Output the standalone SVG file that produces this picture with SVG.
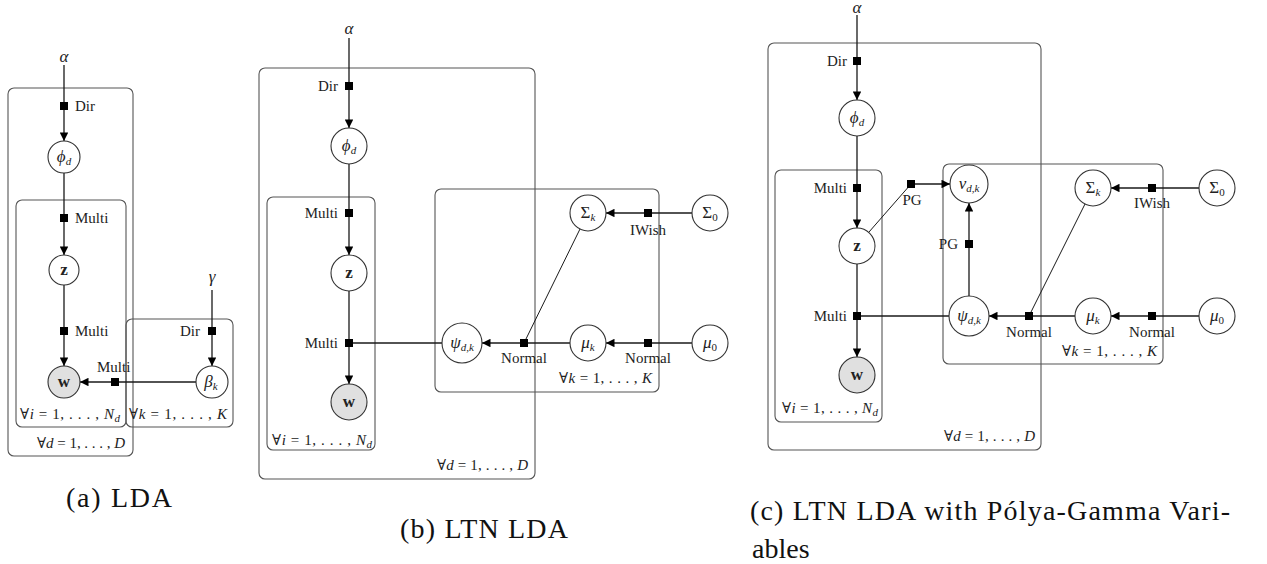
<svg xmlns="http://www.w3.org/2000/svg" width="1267" height="564" viewBox="0 0 1267 564">
<style>
  .plate{fill:none;stroke:#555;stroke-width:1.1}
  .node{fill:#fff;stroke:#333;stroke-width:1.1}
  .obs{fill:#e0e0e0;stroke:#333;stroke-width:1.1}
  .edge{fill:none;stroke:#1a1a1a;stroke-width:1.3}
  .thin{fill:none;stroke:#1a1a1a;stroke-width:1}
  .fac{fill:#000}
  text{font-family:"Liberation Serif","DejaVu Serif",serif;fill:#222}
  .lab{font-size:15px}
  .math{font-size:17px;font-style:italic}
  .mid{text-anchor:middle}
  .end{text-anchor:end}
  .cap{font-size:28px;fill:#111}
  .b{font-weight:bold;font-style:normal}
  .sub{font-size:11px}
</style>
<defs>
  <marker id="arr" viewBox="0 0 10 10" refX="10" refY="5" markerUnits="userSpaceOnUse" markerWidth="9" markerHeight="8.5" orient="auto">
    <path d="M0,0 L10,5 L0,10 z" fill="#000"/>
  </marker>
  <rect id="sq" x="-4" y="-4" width="8" height="8" class="fac"/>
</defs>

<!-- ============ Panel (a) ============ -->
<g id="plates-a">
  <rect class="plate" x="8" y="88" width="125" height="368" rx="6"/>
  <rect class="plate" x="16" y="200" width="110" height="227" rx="6"/>
  <rect class="plate" x="126" y="319" width="107" height="108" rx="6"/>
</g>
<g id="edges-a">
  <line class="edge" x1="64" y1="65" x2="64" y2="141" marker-end="url(#arr)"/>
  <line class="edge" x1="64" y1="173" x2="64" y2="255" marker-end="url(#arr)"/>
  <line class="edge" x1="64" y1="285" x2="64" y2="366" marker-end="url(#arr)"/>
  <line class="edge" x1="212" y1="290" x2="212" y2="366" marker-end="url(#arr)"/>
  <line class="edge" x1="196" y1="382" x2="80" y2="382" marker-end="url(#arr)"/>
  <use href="#sq" x="64" y="106"/>
  <use href="#sq" x="64" y="218"/>
  <use href="#sq" x="64" y="331"/>
  <use href="#sq" x="212" y="331"/>
  <use href="#sq" x="115" y="382"/>
</g>
<g id="a-alpha"><text class="math mid" x="64" y="62">α</text></g>
<g id="a-gamma"><text class="math mid" x="212" y="282">γ</text></g>
<g id="a-phi"><circle class="node" cx="64" cy="157" r="16"/><text class="math mid" x="64" y="162">ϕ<tspan class="sub" dy="3">d</tspan></text></g>
<g id="a-z"><circle class="node" cx="64" cy="270" r="15"/><text class="math mid b" x="64" y="275">z</text></g>
<g id="a-w"><circle class="obs" cx="64" cy="382" r="16"/><text class="math mid b" x="64" y="387">w</text></g>
<g id="a-beta"><circle class="node" cx="212" cy="382" r="16"/><text class="math mid" x="211" y="387">β<tspan class="sub" dy="3">k</tspan></text></g>
<g id="a-labels">
  <text class="lab" x="75" y="111">Dir</text>
  <text class="lab" x="75" y="223">Multi</text>
  <text class="lab" x="75" y="336">Multi</text>
  <text class="lab end" x="200" y="336">Dir</text>
  <text class="lab" x="97" y="372">Multi</text>
  <text class="lab" x="20" y="419" textLength="100" lengthAdjust="spacing">∀<tspan font-style="italic">i</tspan> = 1, . . . , <tspan font-style="italic">N</tspan><tspan class="sub" font-style="italic" dy="3">d</tspan></text>
  <text class="lab" x="129" y="419" textLength="98" lengthAdjust="spacing">∀<tspan font-style="italic">k</tspan> = 1, . . . , <tspan font-style="italic">K</tspan></text>
  <text class="lab" x="37" y="448" textLength="88" lengthAdjust="spacing">∀<tspan font-style="italic">d</tspan> = 1, . . . , <tspan font-style="italic">D</tspan></text>
</g>

<!-- ============ Panel (b) ============ -->
<g id="plates-b">
  <rect class="plate" x="259" y="68" width="276" height="411" rx="6"/>
  <rect class="plate" x="267" y="197" width="108" height="253" rx="6"/>
  <rect class="plate" x="435" y="189" width="224" height="203" rx="6"/>
</g>
<g id="edges-b">
  <line class="edge" x1="349" y1="38" x2="349" y2="128" marker-end="url(#arr)"/>
  <line class="edge" x1="349" y1="164" x2="349" y2="255" marker-end="url(#arr)"/>
  <line class="edge" x1="349" y1="291" x2="349" y2="384" marker-end="url(#arr)"/>
  <line class="edge" x1="442" y1="343" x2="349" y2="343"/>
  <line class="edge" x1="570" y1="343" x2="482" y2="343" marker-end="url(#arr)"/>
  <line class="edge" x1="692" y1="343" x2="606" y2="343" marker-end="url(#arr)"/>
  <line class="edge" x1="692" y1="213" x2="606" y2="213" marker-end="url(#arr)"/>
  <line class="thin" x1="580" y1="229" x2="524" y2="343"/>
  <use href="#sq" x="349" y="86"/>
  <use href="#sq" x="349" y="213"/>
  <use href="#sq" x="349" y="343"/>
  <use href="#sq" x="524" y="343"/>
  <use href="#sq" x="648" y="343"/>
  <use href="#sq" x="648" y="213"/>
</g>
<g id="b-alpha"><text class="math mid" x="349" y="34">α</text></g>
<g id="b-phi"><circle class="node" cx="349" cy="146" r="18"/><text class="math mid" x="349" y="151">ϕ<tspan class="sub" dy="3">d</tspan></text></g>
<g id="b-z"><circle class="node" cx="349" cy="273" r="18"/><text class="math mid b" x="349" y="278">z</text></g>
<g id="b-w"><circle class="obs" cx="349" cy="402" r="18"/><text class="math mid b" x="349" y="407">w</text></g>
<g id="b-psi"><circle class="node" cx="462" cy="343" r="20"/><text class="math mid" x="462" y="348">ψ<tspan class="sub" dy="3">d,k</tspan></text></g>
<g id="b-sigmak"><circle class="node" cx="588" cy="213" r="18"/><text class="math mid" x="588" y="218"><tspan font-style="normal">Σ</tspan><tspan class="sub" dy="3">k</tspan></text></g>
<g id="b-sigma0"><circle class="node" cx="710" cy="213" r="18"/><text class="math mid" x="710" y="218"><tspan font-style="normal">Σ</tspan><tspan class="sub" font-style="normal" dy="3">0</tspan></text></g>
<g id="b-muk"><circle class="node" cx="588" cy="343" r="18"/><text class="math mid" x="588" y="348">μ<tspan class="sub" dy="3">k</tspan></text></g>
<g id="b-mu0"><circle class="node" cx="710" cy="343" r="18"/><text class="math mid" x="710" y="348">μ<tspan class="sub" font-style="normal" dy="3">0</tspan></text></g>
<g id="b-labels">
  <text class="lab end" x="338" y="91">Dir</text>
  <text class="lab end" x="338" y="218">Multi</text>
  <text class="lab end" x="338" y="348">Multi</text>
  <text class="lab mid" x="648" y="235">IWish</text>
  <text class="lab mid" x="524" y="363">Normal</text>
  <text class="lab mid" x="648" y="363">Normal</text>
  <text class="lab" x="559" y="383" textLength="93" lengthAdjust="spacing">∀<tspan font-style="italic">k</tspan> = 1, . . . , <tspan font-style="italic">K</tspan></text>
  <text class="lab" x="272" y="445" textLength="100" lengthAdjust="spacing">∀<tspan font-style="italic">i</tspan> = 1, . . . , <tspan font-style="italic">N</tspan><tspan class="sub" font-style="italic" dy="3">d</tspan></text>
  <text class="lab" x="437" y="470" textLength="91" lengthAdjust="spacing">∀<tspan font-style="italic">d</tspan> = 1, . . . , <tspan font-style="italic">D</tspan></text>
</g>

<!-- ============ Panel (c) ============ -->
<g id="plates-c">
  <rect class="plate" x="768" y="43" width="273" height="407" rx="6"/>
  <rect class="plate" x="775" y="170" width="107" height="252" rx="6"/>
  <rect class="plate" x="943" y="164" width="220" height="200" rx="6"/>
</g>
<g id="edges-c">
  <line class="edge" x1="857" y1="15" x2="857" y2="100" marker-end="url(#arr)"/>
  <line class="edge" x1="857" y1="136" x2="857" y2="228" marker-end="url(#arr)"/>
  <line class="edge" x1="857" y1="264" x2="857" y2="357" marker-end="url(#arr)"/>
  <line class="edge" x1="949" y1="316" x2="857" y2="316"/>
  <line class="thin" x1="869" y1="232" x2="911" y2="184"/>
  <line class="edge" x1="911" y1="184" x2="950" y2="184" marker-end="url(#arr)"/>
  <line class="edge" x1="969" y1="296" x2="969" y2="203" marker-end="url(#arr)"/>
  <line class="edge" x1="1075" y1="316" x2="989" y2="316" marker-end="url(#arr)"/>
  <line class="edge" x1="1199" y1="316" x2="1111" y2="316" marker-end="url(#arr)"/>
  <line class="edge" x1="1199" y1="188" x2="1111" y2="188" marker-end="url(#arr)"/>
  <line class="thin" x1="1085" y1="204" x2="1029" y2="316"/>
  <use href="#sq" x="857" y="61"/>
  <use href="#sq" x="857" y="188"/>
  <use href="#sq" x="857" y="316"/>
  <use href="#sq" x="911" y="184"/>
  <use href="#sq" x="969" y="244"/>
  <use href="#sq" x="1029" y="316"/>
  <use href="#sq" x="1152" y="316"/>
  <use href="#sq" x="1152" y="188"/>
</g>
<g id="c-alpha"><text class="math mid" x="857" y="13">α</text></g>
<g id="c-phi"><circle class="node" cx="857" cy="118" r="18"/><text class="math mid" x="857" y="123">ϕ<tspan class="sub" dy="3">d</tspan></text></g>
<g id="c-z"><circle class="node" cx="857" cy="246" r="18"/><text class="math mid b" x="857" y="251">z</text></g>
<g id="c-w"><circle class="obs" cx="857" cy="375" r="18"/><text class="math mid b" x="857" y="380">w</text></g>
<g id="c-v"><circle class="node" cx="969" cy="184" r="19"/><text class="math mid" x="969" y="189">v<tspan class="sub" dy="3">d,k</tspan></text></g>
<g id="c-psi"><circle class="node" cx="969" cy="316" r="20"/><text class="math mid" x="969" y="321">ψ<tspan class="sub" dy="3">d,k</tspan></text></g>
<g id="c-sigmak"><circle class="node" cx="1093" cy="188" r="18"/><text class="math mid" x="1093" y="193"><tspan font-style="normal">Σ</tspan><tspan class="sub" dy="3">k</tspan></text></g>
<g id="c-sigma0"><circle class="node" cx="1217" cy="188" r="18"/><text class="math mid" x="1217" y="193"><tspan font-style="normal">Σ</tspan><tspan class="sub" font-style="normal" dy="3">0</tspan></text></g>
<g id="c-muk"><circle class="node" cx="1093" cy="316" r="18"/><text class="math mid" x="1093" y="321">μ<tspan class="sub" dy="3">k</tspan></text></g>
<g id="c-mu0"><circle class="node" cx="1217" cy="316" r="18"/><text class="math mid" x="1217" y="321">μ<tspan class="sub" font-style="normal" dy="3">0</tspan></text></g>
<g id="c-labels">
  <text class="lab end" x="847" y="66">Dir</text>
  <text class="lab end" x="847" y="193">Multi</text>
  <text class="lab end" x="847" y="321">Multi</text>
  <text class="lab mid" x="912" y="205">PG</text>
  <text class="lab end" x="958" y="249">PG</text>
  <text class="lab mid" x="1152" y="208">IWish</text>
  <text class="lab mid" x="1029" y="337">Normal</text>
  <text class="lab mid" x="1152" y="337">Normal</text>
  <text class="lab" x="1062" y="356" textLength="95" lengthAdjust="spacing">∀<tspan font-style="italic">k</tspan> = 1, . . . , <tspan font-style="italic">K</tspan></text>
  <text class="lab" x="782" y="413" textLength="96" lengthAdjust="spacing">∀<tspan font-style="italic">i</tspan> = 1, . . . , <tspan font-style="italic">N</tspan><tspan class="sub" font-style="italic" dy="3">d</tspan></text>
  <text class="lab" x="944" y="441" textLength="91" lengthAdjust="spacing">∀<tspan font-style="italic">d</tspan> = 1, . . . , <tspan font-style="italic">D</tspan></text>
</g>

<!-- ============ Captions ============ -->
<g id="captions">
  <text class="cap" x="66" y="507" textLength="106" lengthAdjust="spacing">(a) LDA</text>
  <text class="cap" x="400" y="538" textLength="168" lengthAdjust="spacing">(b) LTN LDA</text>
  <text class="cap" x="750" y="520" textLength="480" lengthAdjust="spacing">(c) LTN LDA with Pólya-Gamma Vari-</text>
  <text class="cap" x="752" y="558">ables</text>
</g>
</svg>
